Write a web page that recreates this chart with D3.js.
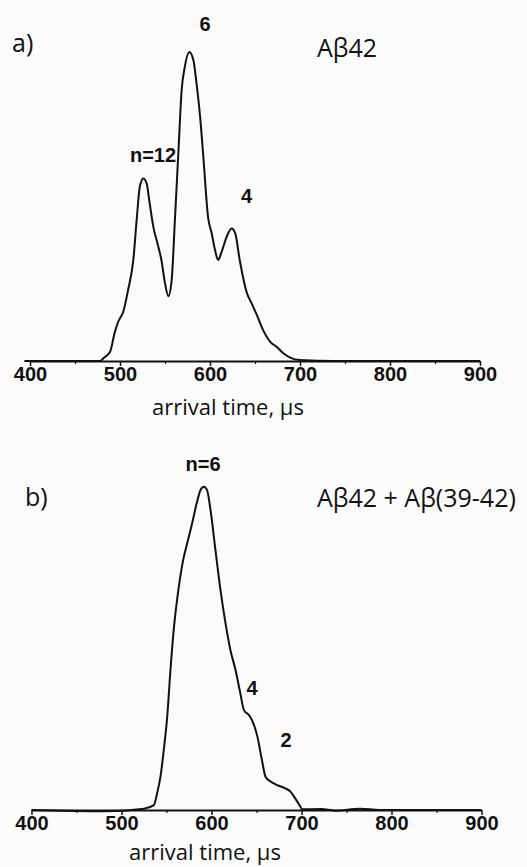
<!DOCTYPE html>
<html>
<head>
<meta charset="utf-8">
<script src="https://cdn.jsdelivr.net/npm/d3@7"></script>
<style>
  body { margin: 0; background: #fbfbfb; }
  .tick text { font-family: "Liberation Sans", Arial, sans-serif; font-weight: bold; font-size: 20px; fill: #111; }
  .ann { font-family: "Liberation Sans", Arial, sans-serif; font-weight: bold; font-size: 20px; fill: #111; }
  .lbl { font-family: "Open Sans", sans-serif; font-size: 25px; fill: #111; }
  .xtitle { font-family: "Open Sans", sans-serif; font-size: 22px; fill: #111; }
</style>
</head>
<body>
<div id="chart"></div>
<script>
// arrival time (µs) and normalised intensity
var timeA = [394, 478, 481.5, 489, 494, 498, 503.7, 509, 514.8, 518.5, 522, 525.9, 529.6, 533, 537, 542.6, 546, 550, 553.7, 557.4, 561, 565, 568.5, 572, 577, 581.5, 585, 589, 592.6, 598, 601.8, 605.6, 609, 613, 618.5, 624, 628, 633, 641, 646, 652, 659, 667, 674, 681.5, 689, 700, 737, 800, 900];
var intA  = [0, 0, 0.009, 0.030, 0.091, 0.127, 0.160, 0.230, 0.327, 0.456, 0.564, 0.591, 0.575, 0.510, 0.435, 0.370, 0.327, 0.252, 0.210, 0.262, 0.456, 0.683, 0.877, 0.952, 1.0, 0.974, 0.899, 0.791, 0.661, 0.462, 0.414, 0.359, 0.327, 0.354, 0.402, 0.429, 0.414, 0.327, 0.220, 0.188, 0.149, 0.100, 0.062, 0.046, 0.025, 0.011, 0.003, 0, 0, 0];

var timeB = [400, 480, 525, 535.9, 539.6, 543.3, 547, 550.8, 554.4, 558, 563.7, 568.5, 573, 578.5, 584, 587.8, 591.5, 595, 598.9, 604.4, 610, 615.6, 621, 626.7, 632, 636, 641.5, 645, 651, 656, 660, 665.6, 673, 682, 687.8, 693, 698.9, 700.7, 722, 737, 765, 787, 900];
var intB  = [0, -0.004, 0.004, 0.015, 0.052, 0.103, 0.186, 0.289, 0.433, 0.557, 0.691, 0.773, 0.825, 0.887, 0.954, 0.990, 1.0, 0.990, 0.928, 0.804, 0.680, 0.577, 0.495, 0.433, 0.361, 0.309, 0.294, 0.278, 0.227, 0.155, 0.103, 0.088, 0.077, 0.067, 0.057, 0.036, 0.010, 0.002, 0.003, -0.002, 0.004, 0, 0];

var majorTicks = [400, 500, 600, 700, 800, 900];
var minorTicks = [450, 550, 650, 750, 850];

// peak annotations: label, time, intensity
var annA = [["n=12", 536.7, 0.644], ["6", 594.4, 1.068], ["4", 640.6, 0.511]];
var annB = [["n=6", 590.6, 1.049], ["4", 645, 0.356], ["2", 682.8, 0.195]];

var width = 527, height = 867;

var svg = d3.select("#chart").append("svg")
  .attr("width", width)
  .attr("height", height);

function panel(opt) {
  var x = d3.scaleLinear().domain([400, 900]).range(opt.xr);
  var y = d3.scaleLinear().domain([0, 1]).range(opt.yr);
  var g = svg.append("g");

  var pts = opt.t.map((t, i) => ({t: t, v: opt.v[i]}));
  var line = d3.line()
    .x(d => x(d.t))
    .y(d => y(d.v))
    .curve(d3.curveMonotoneX);

  // axis
  var axis = g.append("g")
    .attr("transform", `translate(0,${opt.yr[0]})`)
    .call(d3.axisBottom(x).tickValues(majorTicks).tickFormat(d3.format("d"))
      .tickSize(5).tickSizeOuter(0).tickPadding(1));
  axis.select(".domain").attr("stroke-width", 2).attr("stroke", "#111");
  axis.selectAll(".tick line").attr("stroke-width", 1.5).attr("stroke", "#111");

  g.append("g")
    .attr("transform", `translate(0,${opt.yr[0]})`)
    .call(d3.axisBottom(x).tickValues(minorTicks).tickFormat("").tickSize(3).tickSizeOuter(0))
    .call(a => a.select(".domain").remove())
    .selectAll(".tick line").attr("stroke-width", 1.2).attr("stroke", "#111");

  if (opt.lead) {
    g.append("line")
      .attr("x1", x(opt.lead)).attr("x2", x(400))
      .attr("y1", y(0)).attr("y2", y(0))
      .attr("stroke", "#111").attr("stroke-width", 2);
  }

  g.append("path")
    .datum(pts)
    .attr("d", line)
    .attr("fill", "none")
    .attr("stroke", "#111")
    .attr("stroke-width", 2)
    .attr("stroke-linejoin", "round");

  g.selectAll(".ann")
    .data(opt.ann).enter()
    .append("text")
    .attr("class", "ann")
    .attr("text-anchor", "middle")
    .attr("x", d => x(d[1]))
    .attr("y", d => y(d[2]))
    .text(d => d[0]);

  g.append("text").attr("class", "lbl")
    .attr("x", opt.tag[1]).attr("y", opt.tag[2]).text(opt.tag[0]);
  g.append("text").attr("class", "lbl")
    .attr("x", opt.name[1]).attr("y", opt.name[2]).text(opt.name[0]);

  g.append("text").attr("class", "xtitle")
    .attr("text-anchor", "middle")
    .attr("x", opt.title[0]).attr("y", opt.title[1])
    .text("arrival time, \u03bcs");
}

panel({
  t: timeA, v: intA, xr: [30, 480], yr: [361, 52], lead: 394, ann: annA,
  tag: ["a)", 12, 52], name: ["A\u03b242", 317, 57], title: [228, 415]
});

panel({
  t: timeB, v: intB, xr: [31.5, 481.5], yr: [810, 486.7], lead: null, ann: annB,
  tag: ["b)", 25, 506], name: ["A\u03b242 + A\u03b2(39-42)", 317, 507], title: [205, 860]
});
</script>
</body>
</html>
